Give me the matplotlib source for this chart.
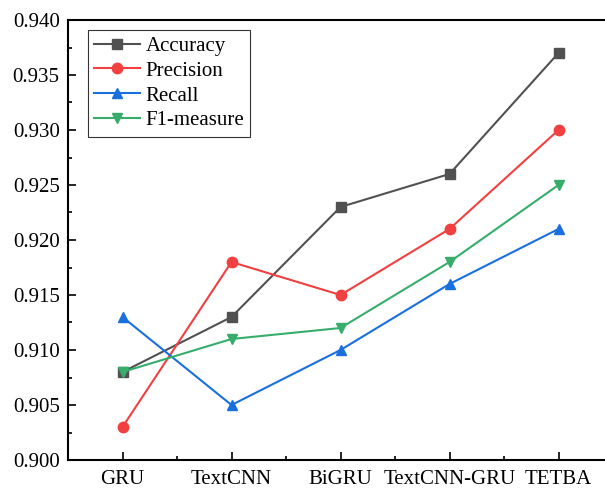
import numpy as np
import matplotlib.pyplot as plt
from matplotlib.ticker import MultipleLocator, AutoMinorLocator

plt.rcParams['font.family'] = ['Liberation Serif', 'DejaVu Serif']

models = ['GRU', 'TextCNN', 'BiGRU', 'TextCNN-GRU', 'TETBA']
accuracy = [0.908, 0.913, 0.923, 0.926, 0.937]
precision = [0.903, 0.918, 0.915, 0.921, 0.930]
recall = [0.913, 0.905, 0.910, 0.916, 0.921]
f1_measure = [0.908, 0.911, 0.912, 0.918, 0.925]

fig = plt.figure(figsize=(6.05, 4.88), dpi=100)
# right spine sits just past the image edge, as in the reference
ax = fig.add_axes([68 / 605, 28 / 488, 545 / 605, 440 / 488])

x = np.arange(len(models))
series = [
    ('Accuracy', accuracy, '#515151', 's'),
    ('Precision', precision, '#F14040', 'o'),
    ('Recall', recall, '#1A6FDF', '^'),
    ('F1-measure', f1_measure, '#37AD6B', 'v'),
]
for name, vals, color, marker in series:
    ax.plot(x, vals, color=color, marker=marker, markersize=7.5,
            linewidth=1.5, label=name)

ax.set_xlim(-0.5, 4.5)
ax.set_ylim(0.900, 0.940)
ax.set_xticks(x)
ax.set_xticklabels(models)
ax.yaxis.set_major_locator(MultipleLocator(0.005))
ax.yaxis.set_major_formatter(plt.FormatStrFormatter('%.3f'))
ax.yaxis.set_minor_locator(AutoMinorLocator(2))
ax.xaxis.set_minor_locator(MultipleLocator(0.5))

ax.tick_params(which='both', direction='in', top=False, right=False,
               labelsize=15, width=1.2)
ax.tick_params(which='major', length=6, pad=6)
ax.tick_params(which='minor', length=3)
ax.tick_params(axis='x', pad=7)
for s in ax.spines.values():
    s.set_linewidth(1.5)

leg = ax.legend(loc='upper left', fontsize=15, frameon=True, fancybox=False,
                edgecolor='black', borderpad=0.3, labelspacing=0.25,
                handlelength=2.2, handletextpad=0.25, borderaxespad=0,
                bbox_to_anchor=(0.037, 0.977))
leg.get_frame().set_linewidth(0.8)

fig.savefig('out.png', dpi=100)
